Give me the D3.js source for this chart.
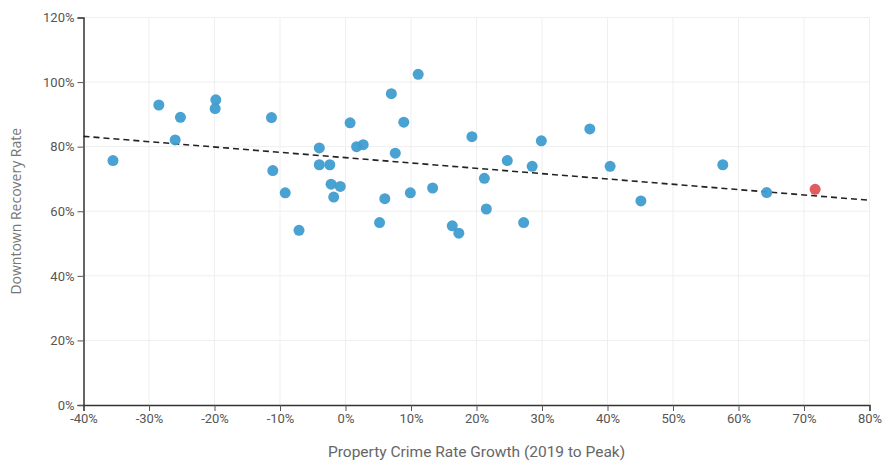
<!DOCTYPE html>
<html>
<head>
<meta charset="utf-8">
<script src="https://cdn.jsdelivr.net/npm/d3@7"></script>
<style>
  html, body { margin: 0; padding: 0; background: #fff; }
  svg { display: block; }
</style>
</head>
<body>
<svg id="chart" width="886" height="463"></svg>
<script>
// Property crime rate growth (2019 to peak), in %
const crimeGrowth = [
  -35.5, -28.5, -25.2, -26.0, -19.8, -19.9, -11.3, -11.1, -9.2, -7.1,
  -4.0, -4.0, -2.4, -2.2, -1.8, -0.8, 0.7, 1.7, 2.7, 5.2,
  6.0, 7.0, 7.6, 8.9, 9.9, 11.1, 13.3, 16.3, 17.3, 19.3,
  21.2, 21.5, 24.7, 27.2, 28.5, 29.9, 37.3, 40.4, 45.1, 57.6,
  64.3, 71.7
];
// Downtown recovery rate, in %
const recoveryRate = [
  75.7, 92.9, 89.1, 82.1, 94.5, 91.8, 89.0, 72.6, 65.7, 54.1,
  79.6, 74.4, 74.4, 68.4, 64.4, 67.7, 87.4, 80.0, 80.6, 56.5,
  63.9, 96.4, 78.0, 87.6, 65.7, 102.4, 67.2, 55.5, 53.2, 83.1,
  70.2, 60.7, 75.7, 56.5, 73.9, 81.8, 85.5, 73.9, 63.2, 74.4,
  65.8, 66.8
];
// highlighted point (last one)
const highlighted = [false,false,false,false,false,false,false,false,false,false,
  false,false,false,false,false,false,false,false,false,false,
  false,false,false,false,false,false,false,false,false,false,
  false,false,false,false,false,false,false,false,false,false,
  false,true];
// trend line end points
const trendX = [-40, 80];
const trendY = [83.2, 63.4];
// ticks
const xTicks = [-40, -30, -20, -10, 0, 10, 20, 30, 40, 50, 60, 70, 80];
const yTicks = [0, 20, 40, 60, 80, 100, 120];

const xTitle = "Property Crime Rate Growth (2019 to Peak)";
const yTitle = "Downtown Recovery Rate";

const W = 886, H = 463;
const margin = { top: 17.5, right: 16.5, bottom: 58, left: 83.5 };
const svg = d3.select("#chart");
const iw = W - margin.left - margin.right;
const ih = H - margin.top - margin.bottom;

const x = d3.scaleLinear().domain([-40, 80]).range([margin.left, margin.left + iw]);
const y = d3.scaleLinear().domain([0, 120]).range([margin.top + ih, margin.top]);

const fmt = d => d + "%";

// gridlines
const grid = svg.append("g");
grid.selectAll(".gx").data(xTicks.slice(1)).join("line")
  .attr("x1", d => x(d)).attr("x2", d => x(d))
  .attr("y1", y(0)).attr("y2", y(120))
  .attr("stroke", "#efefef").attr("stroke-width", 1);
grid.selectAll(".gy").data(yTicks.slice(1)).join("line")
  .attr("x1", x(-40)).attr("x2", x(80))
  .attr("y1", d => y(d)).attr("y2", d => y(d))
  .attr("stroke", "#efefef").attr("stroke-width", 1);

// axes
const xAxis = svg.append("g")
  .attr("transform", `translate(0,${y(0)})`)
  .call(d3.axisBottom(x).tickValues(xTicks).tickFormat(fmt).tickSize(6).tickPadding(3));
const yAxis = svg.append("g")
  .attr("transform", `translate(${x(-40)},0)`)
  .call(d3.axisLeft(y).tickValues(yTicks).tickFormat(fmt).tickSize(6).tickPadding(3));

[xAxis, yAxis].forEach(a => {
  a.selectAll("path.domain").attr("stroke", "#333").attr("stroke-width", 1.5);
  a.selectAll(".tick line").attr("stroke", "#555");
  a.selectAll(".tick text")
    .attr("fill", "#555")
    .style("font-family", "Roboto, sans-serif")
    .style("font-size", "13px");
});

// trend line
svg.append("line")
  .attr("x1", x(trendX[0])).attr("y1", y(trendY[0]))
  .attr("x2", x(trendX[1])).attr("y2", y(trendY[1]))
  .attr("stroke", "#222").attr("stroke-width", 1.6)
  .attr("stroke-dasharray", "6,4");

// points
const pts = crimeGrowth.map((v, i) => ({ x: v, y: recoveryRate[i], h: highlighted[i] }));
svg.append("g").selectAll("circle").data(pts).join("circle")
  .attr("cx", d => x(d.x)).attr("cy", d => y(d.y))
  .attr("r", 5.5)
  .attr("fill", d => d.h ? "#df5355" : "#3f9dcf")
  .attr("fill-opacity", 0.95);

// axis titles
svg.append("text")
  .attr("x", (x(-40) + x(80)) / 2).attr("y", 457)
  .attr("text-anchor", "middle")
  .attr("fill", "#666")
  .style("font-family", "Roboto, sans-serif")
  .style("font-size", "15.5px")
  .text(xTitle);

svg.append("text")
  .attr("transform", `translate(21,${(y(0) + y(120)) / 2}) rotate(-90)`)
  .attr("text-anchor", "middle")
  .attr("fill", "#777")
  .style("font-family", "'Open Sans', sans-serif")
  .style("font-size", "14px")
  .text(yTitle);
</script>
</body>
</html>
